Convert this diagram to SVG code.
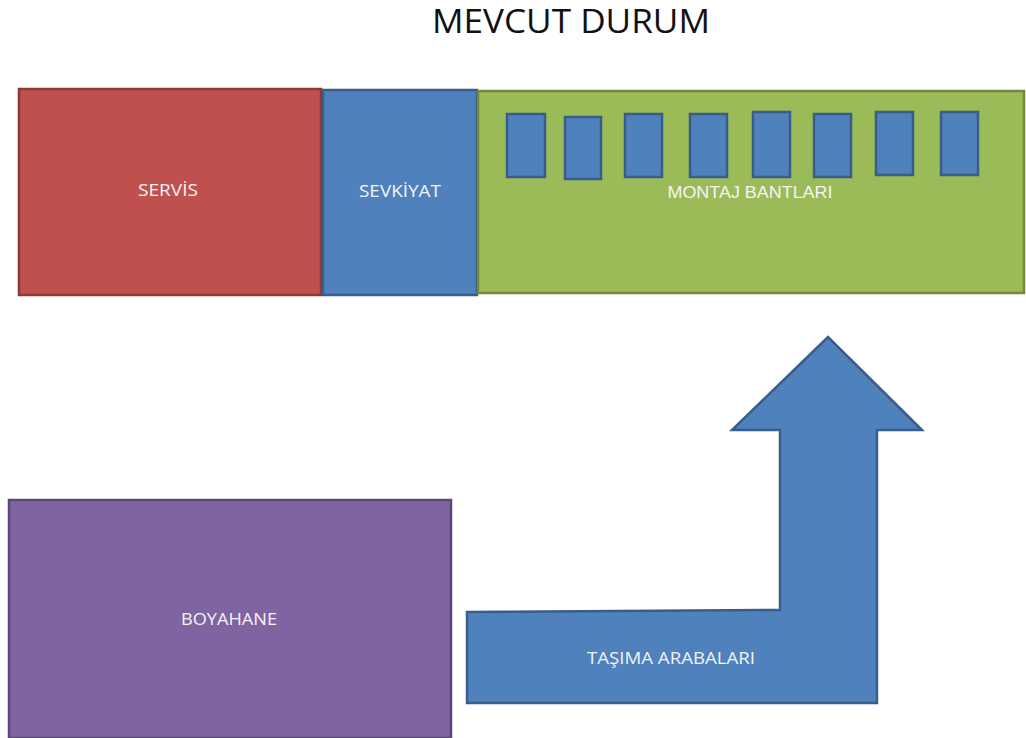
<svg xmlns="http://www.w3.org/2000/svg" width="1026" height="738" viewBox="0 0 1026 738">
<style>
.lbl{font-family:"Open Sans","Liberation Sans",sans-serif;font-size:17px;fill:#f4f4f4;text-anchor:middle}
.red{fill:#C0504D;stroke:#8C3836;stroke-width:2.5}
.blue{fill:#4F81BD;stroke:#385D8A;stroke-width:2.5}
.green{fill:#9BBB59;stroke:#71893F;stroke-width:2.5}
.purple{fill:#8064A2;stroke:#5C4776;stroke-width:2.5}
.band{fill:#4F81BD;stroke:#385D8A;stroke-width:2.5}
</style>
<rect width="1026" height="738" fill="#ffffff"/>
<text x="571" y="33" font-family="Open Sans, Liberation Sans, sans-serif" font-size="32" font-weight="500" fill="#111111" text-anchor="middle" textLength="278" lengthAdjust="spacingAndGlyphs">MEVCUT DURUM</text>
<g id="servis">
<rect class="red" x="19" y="89" width="302" height="206"/>
<text class="lbl" x="168" y="196" textLength="60" lengthAdjust="spacingAndGlyphs">SERVİS</text>
</g>
<g id="sevkiyat">
<rect class="blue" x="323" y="90" width="154" height="205"/>
<text class="lbl" x="400" y="197" textLength="82" lengthAdjust="spacingAndGlyphs">SEVKİYAT</text>
</g>
<g id="montaj">
<rect class="green" x="478" y="91" width="546" height="202"/>
<rect class="band" x="507" y="114" width="38" height="63"/>
<rect class="band" x="565" y="117" width="36" height="62"/>
<rect class="band" x="625" y="114" width="37" height="63"/>
<rect class="band" x="690" y="114" width="37" height="63"/>
<rect class="band" x="753" y="112" width="37" height="65"/>
<rect class="band" x="814" y="114" width="37" height="63"/>
<rect class="band" x="876" y="112" width="37" height="63"/>
<rect class="band" x="941" y="112" width="37" height="63"/>
<text x="750" y="198" font-family="Liberation Sans, Arial, sans-serif" font-size="17" fill="#f4f4f4" text-anchor="middle" textLength="165" lengthAdjust="spacingAndGlyphs">MONTAJ  BANTLARI</text>
</g>
<g id="boyahane">
<rect class="purple" x="9" y="500" width="442" height="238"/>
<text class="lbl" x="229" y="625" textLength="96" lengthAdjust="spacingAndGlyphs">BOYAHANE</text>
</g>
<g id="connectors">
<g id="tasima">
<path class="blue" d="M467,612 L780,610 L780,430 L732,430 L828,337 L922,430 L877,430 L877,703 L467,703 Z"/>
<text class="lbl" x="671" y="664" textLength="168" lengthAdjust="spacingAndGlyphs">TAŞIMA ARABALARI</text>
</g>
</g>
</svg>
